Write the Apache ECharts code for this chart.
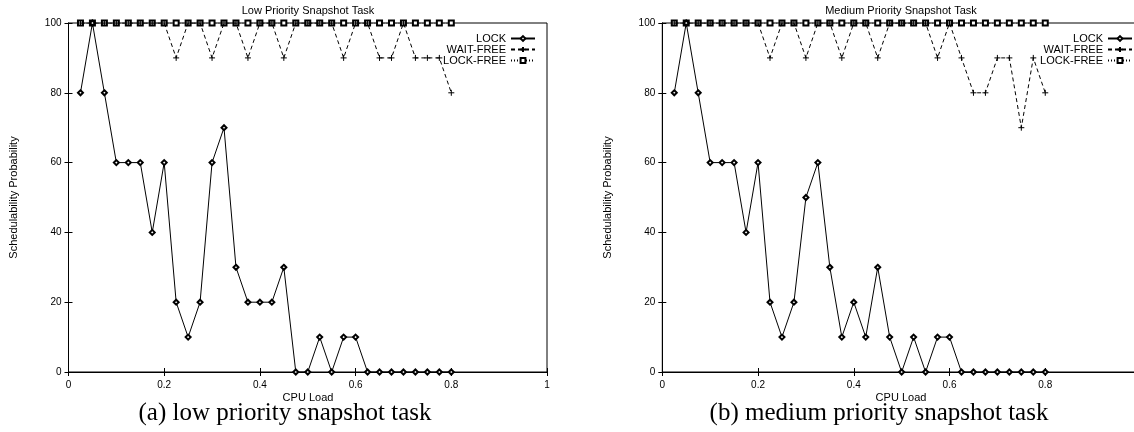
<!DOCTYPE html>
<html>
<head>
<meta charset="utf-8">
<script src="https://cdn.jsdelivr.net/npm/echarts@6/dist/echarts.min.js"></script>
<style>
html,body{margin:0;padding:0;background:#fff;overflow:hidden;width:1134px;height:432px;}
#lowTask{position:absolute;left:0;top:0;width:567px;height:432px;}
#mediumTask{position:absolute;left:567px;top:0;width:590px;height:432px;}
</style>
</head>
<body>
<div id="lowTask"></div>
<div id="mediumTask"></div>
<script>
// CPU load (x) shared by both plots
let cpuLoad=[0.025,0.05,0.075,0.1,0.125,0.15,0.175,0.2,0.225,0.25,0.275,0.3,0.325,0.35,0.375,0.4,
    0.425,0.45,0.475,0.5,0.525,0.55,0.575,0.6,0.625,0.65,0.675,0.7,0.725,0.75,0.775,0.8];
let xTicks=[0,0.2,0.4,0.6,0.8,1];
let yTicks=[0,20,40,60,80,100];
let seriesNames=['LOCK','WAIT-FREE','LOCK-FREE'];

// (a) low priority
let lowLock=[80,100,80,60,60,60,40,60,20,10,20,60,70,30,20,20,20,30,0,0,10,0,10,10,0,0,0,0,0,0,0,0];
let lowWaitFree=[100,100,100,100,100,100,100,100,90,100,100,90,100,100,90,100,100,90,100,100,100,100,90,100,100,90,90,100,90,90,90,80];
let lowLockFree=[100,100,100,100,100,100,100,100,100,100,100,100,100,100,100,100,100,100,100,100,100,100,100,100,100,100,100,100,100,100,100,100];

// (b) medium priority
let medLock=[80,100,80,60,60,60,40,60,20,10,20,50,60,30,10,20,10,30,10,0,10,0,10,10,0,0,0,0,0,0,0,0];
let medWaitFree=[100,100,100,100,100,100,100,100,90,100,100,90,100,100,90,100,100,90,100,100,100,100,90,100,90,80,80,90,90,70,90,80];
let medLockFree=[100,100,100,100,100,100,100,100,100,100,100,100,100,100,100,100,100,100,100,100,100,100,100,100,100,100,100,100,100,100,100,100];

let sans="'Liberation Sans', Arial, sans-serif";
let serif="'Liberation Serif', 'Times New Roman', serif";

function pairs(vals){
    return cpuLoad.map(function(x,i){return [x,vals[i]];});
}

function makeOption(cfg){
    return {
        animation:false,
        grid:{left:cfg.gridLeft,right:cfg.gridRight,top:23,bottom:60,show:true,borderColor:'#000',borderWidth:1},
        legend:{
            data:seriesNames,
            orient:'vertical',
            align:'right',
            right:cfg.legendRight, top:33, padding:0,
            itemWidth:24, itemHeight:6, itemGap:0,
            textStyle:{fontFamily:sans,fontSize:11,lineHeight:11,color:'#000'}
        },
        xAxis:[{
            type:'value', min:xTicks[0], max:xTicks[xTicks.length-1], interval:0.2,
            axisLine:{lineStyle:{color:'#000',width:1}},
            axisTick:{inside:true,length:4,lineStyle:{color:'#000'}},
            axisLabel:{fontFamily:sans,fontSize:10,color:'#000',margin:8},
            splitLine:{show:false}
        },{
            type:'value', position:'top', min:xTicks[0], max:xTicks[xTicks.length-1], interval:0.2,
            axisLine:{lineStyle:{color:'#000'}},
            axisTick:{inside:true,length:4,lineStyle:{color:'#000'}},
            axisLabel:{show:false}, splitLine:{show:false}
        }],
        yAxis:[{
            type:'value', min:yTicks[0], max:yTicks[yTicks.length-1], interval:20,
            name:'Schedulability Probability', nameLocation:'middle', nameGap:49,
            nameTextStyle:{fontFamily:sans,fontSize:11,color:'#000'},
            axisLine:{lineStyle:{color:'#000',width:1}},
            axisTick:{inside:true,length:4,lineStyle:{color:'#000'}},
            axisLabel:{fontFamily:sans,fontSize:10,color:'#000',margin:7},
            splitLine:{show:false}
        },{
            type:'value', position:'right', min:yTicks[0], max:yTicks[yTicks.length-1], interval:20,
            axisLine:{lineStyle:{color:'#000'}},
            axisTick:{inside:true,length:4,lineStyle:{color:'#000'}},
            axisLabel:{show:false}, splitLine:{show:false}
        }],
        graphic:[{
            type:'text', x:cfg.titleX, y:11,
            style:{text:cfg.title,font:'11px '+sans,fill:'#000',textAlign:'center',textVerticalAlign:'middle'}
        },{
            type:'text', x:cfg.cpuX, y:398,
            style:{text:'CPU Load',font:'11px '+sans,fill:'#000',textAlign:'center',textVerticalAlign:'middle'}
        },{
            type:'text', x:cfg.captionX, y:413,
            style:{text:cfg.caption,font:'25px '+serif,fill:'#000',textAlign:'center',textVerticalAlign:'middle'}
        }],
        series:[{
            name:'LOCK', type:'line', data:pairs(cfg.lock),
            symbol:'emptyDiamond', symbolSize:5, z:4,
            lineStyle:{color:'#000',width:1}, itemStyle:{color:'#000',borderWidth:1}
        },{
            name:'WAIT-FREE', type:'line', data:pairs(cfg.waitFree),
            symbol:'path://M0,5L10,5M5,0L5,10', symbolSize:6, z:3,
            lineStyle:{color:'#000',width:1,type:[4,3]},
            itemStyle:{color:'#000',borderColor:'#000',borderWidth:1}
        },{
            name:'LOCK-FREE', type:'line', data:pairs(cfg.lockFree),
            symbol:'emptyRect', symbolSize:5, z:2,
            lineStyle:{color:'#000',width:1,type:[1,2]}, itemStyle:{color:'#000',borderWidth:1}
        }]
    };
}

let lowChart=echarts.init(document.getElementById('lowTask'));
lowChart.setOption(makeOption({
    title:'Low Priority Snapshot Task', titleX:308,
    gridLeft:68.5, gridRight:20, legendRight:31,
    cpuX:308, captionX:285, caption:'(a) low priority snapshot task',
    lock:lowLock, waitFree:lowWaitFree, lockFree:lowLockFree
}));

let medChart=echarts.init(document.getElementById('mediumTask'));
medChart.setOption(makeOption({
    title:'Medium Priority Snapshot Task', titleX:334,
    gridLeft:95.3, gridRight:16, legendRight:24,
    cpuX:334, captionX:312, caption:'(b) medium priority snapshot task',
    lock:medLock, waitFree:medWaitFree, lockFree:medLockFree
}));
</script>
</body>
</html>
